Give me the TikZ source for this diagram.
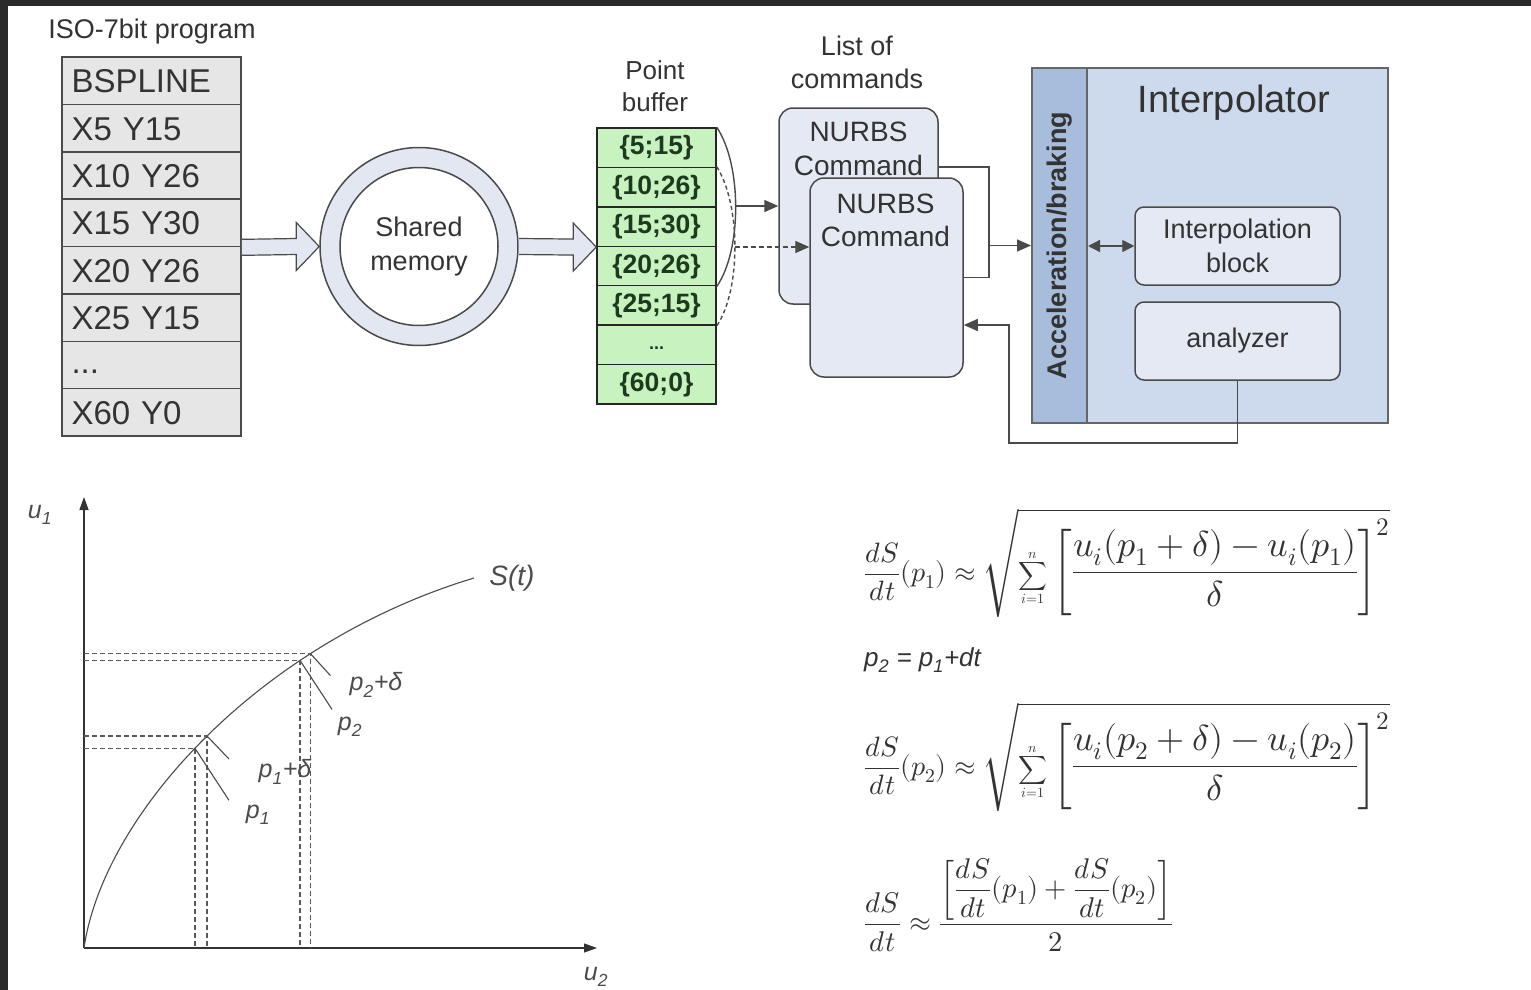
\documentclass[tikz,border=0pt]{standalone}
\usepackage{amsmath}
\usepackage{fontspec}
\usepackage{unicode-math}
\setmainfont{Liberation Sans}
\setmathfont{Latin Modern Math}
\usetikzlibrary{arrows.meta,calc}
\definecolor{txt}{HTML}{333333}
\definecolor{gridfill}{HTML}{E6E6E6}
\definecolor{ringfill}{HTML}{E2E7F2}
\definecolor{buffill}{HTML}{C8F2C0}
\definecolor{buftext}{HTML}{1E3A1E}
\definecolor{cmdfill}{HTML}{E4E9F4}
\definecolor{ipfill}{HTML}{CDD9EC}
\definecolor{accfill}{HTML}{A8BCDB}
\definecolor{framecol}{HTML}{2A2A2A}
\definecolor{edge}{HTML}{4A4A4A}
\begin{document}
\begin{tikzpicture}[x=1pt,y=-1pt,
  progrow/.style={draw=edge, fill=gridfill, line width=1.5pt, minimum width=179pt, minimum height=47.4pt,
    text width=160pt, align=left, inner xsep=9.5pt, inner ysep=0pt, text height=24pt, text depth=0pt,
    font=\fontsize{33}{36}\selectfont, text=txt},
  bufrow/.style={draw=black!85, fill=buffill, line width=1.5pt, minimum width=119pt, minimum height=39.4pt,
    inner sep=0pt, font=\bfseries\fontsize{26.5}{28}\selectfont, text=buftext, text height=19pt, text depth=5pt},
  cmdbox/.style={draw=edge, fill=cmdfill, rounded corners=14pt, line width=1.5pt, inner sep=0pt},
  smallbox/.style={draw=edge, fill=cmdfill, rounded corners=9pt, line width=1.5pt, inner sep=0pt,
    minimum width=205pt, minimum height=78pt, align=center, text=txt, font=\fontsize{27}{34}\selectfont},
  lbl/.style={text=txt, align=center, inner sep=0pt},
  line/.style={draw=edge, line width=1.4pt},
  arr/.style={line, -{Triangle[length=14pt,width=12pt]}},
  darr/.style={line, {Triangle[length=12pt,width=12pt]}-{Triangle[length=12pt,width=12pt]}},
  fat/.style={draw=edge, fill=ringfill, line width=1.2pt, line join=miter},
  axis/.style={draw=black!80, line width=1.3pt, -{Triangle[length=13pt,width=9pt]}},
  dsh/.style={draw=black!65, line width=1.3pt, dash pattern=on 5pt off 3pt},
  thin/.style={draw=black!70, line width=1.1pt},
  glbl/.style={text=black!70, inner sep=0pt, font=\itshape\fontsize{25}{28}\selectfont},
  formula/.style={inner sep=0pt, text=txt}
]
\useasboundingbox (0,0) rectangle (1531,990);
\fill[white] (0,0) rectangle (1531,990);
\fill[framecol] (0,0) rectangle (1531,6);
\fill[framecol] (0,0) rectangle (8,990);

% ---------- ISO program ----------
\node[lbl, font=\fontsize{27}{32}\selectfont] (isolbl) at (152,32) {ISO-7bit program};
\node[progrow] (p1) at (151.5,80.7)  {BSPLINE};
\node[progrow] (p2) at (151.5,128.1) {X5 Y15};
\node[progrow] (p3) at (151.5,175.5) {X10 Y26};
\node[progrow] (p4) at (151.5,222.9) {X15 Y30};
\node[progrow] (p5) at (151.5,270.3) {X20 Y26};
\node[progrow] (p6) at (151.5,317.6) {X25 Y15};
\node[progrow, text height=17pt] (p7) at (151.5,365.0) {...};
\node[progrow] (p8) at (151.5,412.4) {X60 Y0};

% ---------- shared memory ----------
\node[circle, draw=edge, fill=ringfill, line width=1.5pt, minimum size=198pt, inner sep=0pt] (mem) at (419,246.5) {};
\node[circle, draw=edge, fill=white, line width=1.5pt, minimum size=158pt, inner sep=0pt,
      align=center, text=txt, font=\fontsize{27}{34}\selectfont] (memin) at (419,246.5) {Shared\\memory};

% ---------- point buffer ----------
\node[lbl, font=\fontsize{26}{32}\selectfont] (buflbl) at (655,86) {Point\\buffer};
\node[bufrow] (b1) at (656.5,147.7) {\{5;15\}};
\node[bufrow] (b2) at (656.5,187.1) {\{10;26\}};
\node[bufrow] (b3) at (656.5,226.6) {\{15;30\}};
\node[bufrow] (b4) at (656.5,266.0) {\{20;26\}};
\node[bufrow] (b5) at (656.5,305.4) {\{25;15\}};
\node[bufrow, text height=10pt, text depth=0pt, font=\bfseries\fontsize{18}{20}\selectfont] (b6) at (656.5,344.9) {...};
\node[bufrow] (b7) at (656.5,384.3) {\{60;0\}};

% fat arrows
\filldraw[fat] ($(p4.south east)+(0,-8)$) -- ($(mem.west)+(-23,-8)$) -- ($(mem.west)+(-23,-24)$) -- (mem.west)
   -- ($(mem.west)+(-23,24)$) -- ($(mem.west)+(-23,8)$) -- ($(p4.south east)+(0,8)$);
\filldraw[fat] ($(mem.east)+(0,-8)$) -- ($(b3.south west)+(-23,-8)$) -- ($(b3.south west)+(-23,-24)$) -- (b3.south west)
   -- ($(b3.south west)+(-23,24)$) -- ($(b3.south west)+(-23,8)$) -- ($(mem.east)+(0,8)$);

% ---------- list of commands ----------
\node[lbl, font=\fontsize{27}{33}\selectfont] (cmdlbl) at (857,62) {List of\\commands};
\node[cmdbox, minimum width=159pt, minimum height=196pt] (nb) at (858.5,206) {};
\node[lbl, font=\fontsize{28}{34}\selectfont] (nbt) at ($(nb.north)+(0,42)$) {NURBS\\Command};
\node[cmdbox, minimum width=153pt, minimum height=199pt] (nf) at (886.5,277.5) {};
\node[lbl, font=\fontsize{28}{33}\selectfont] (nft) at ($(nf.north)+(-1,43)$) {NURBS\\Command};

% braces from buffer
\draw[line] (b1.north east) .. controls (742,165) and (742,250) .. (b4.south east);
\draw[line, dash pattern=on 4pt off 3pt] (b2.north east) .. controls (741,205) and (741,290) .. (b5.south east);
\coordinate (sb) at (735,206);
\coordinate (db) at (735,247);
\draw[arr] (sb) -- (nb.west);
\draw[arr, dash pattern=on 5pt off 3pt] (db) -- (db -| nf.west);

% ---------- interpolator ----------
\node[draw=black!60, fill=ipfill, line width=2pt, minimum width=356pt, minimum height=355pt, inner sep=0pt] (ip) at (1210,245.5) {};
\node[draw=black!60, fill=accfill, line width=2pt, minimum width=55pt, minimum height=355pt, inner sep=0pt] (acc) at (1059.5,245.5) {};
\node[rotate=90, text=txt, inner sep=0pt, font=\bfseries\fontsize{27}{30}\selectfont] (acct) at (1059.5,245.5) {Acceleration/braking};
\node[lbl, font=\fontsize{38}{44}\selectfont] (iptitle) at (1234,103) {Interpolator};
\node[smallbox] (ib) at (1237.5,246) {Interpolation\\block};
\node[smallbox] (an) at (1237.5,341) {analyzer};

% connectors
\coordinate (j1) at (989,167);
\coordinate (j2) at (989,245.5);
\draw[line] (nb.east |- j1) -- (j1) -- (j1 |- nf.east) -- (nf.east);
\draw[arr] (j2) -- (acc.west);
\draw[darr] (acc.east |- ib.west) -- (ib.west);
\coordinate (fb) at (1009,443);
\coordinate (fbt) at ($(nf.east)+(0,47.5)$);
\draw[arr] (an.south) |- (fb) |- (fbt);

% ---------- graph ----------
\coordinate (O) at (84,948);
\draw[axis] (O) -- (84,497);
\draw[axis] (O) -- (597,948);
\node[glbl] (u1) at (40,515) {u\textsubscript{1}};
\node[glbl] (u2) at (596,977) {u\textsubscript{2}};
\draw[thin] (O) .. controls (104,812) and (262,642) .. (474,578)
  coordinate[pos=0.47] (q1) coordinate[pos=0.5] (q1d) coordinate[pos=0.7] (q2) coordinate[pos=0.72] (q2d);
\foreach \q in {q1,q1d,q2,q2d} {
  \draw[dsh] (\q -| O) -- (\q) -- (\q |- O);
}
\draw[thin] (q1) -- ++(34,52);
\draw[thin] (q1d) -- ++(22,23);
\draw[thin] (q2) -- ++(32,49);
\draw[thin] (q2d) -- ++(20,22);
\node[glbl, font=\itshape\fontsize{28}{30}\selectfont] (st) at (512,578) {S(t)};
\node[glbl] (l2d) at (376,685) {p\textsubscript{2}+δ};
\node[glbl] (l2) at (350,727) {p\textsubscript{2}};
\node[glbl] (l1d) at (285,772) {p\textsubscript{1}+δ};
\node[glbl] (l1) at (258,815) {p\textsubscript{1}};

% ---------- formulas ----------
\node[formula, anchor=west, font=\fontsize{36}{40}\selectfont] (f1) at (864,563)
 {$\displaystyle\mbox{\fontsize{28}{30}\selectfont$\displaystyle\frac{dS}{dt}(p_1)\approx$}\,\sqrt{\mbox{\fontsize{20}{22}\selectfont$\displaystyle\sum_{i=1}^{n}$}\left[\frac{u_i(p_1+\delta)-u_i(p_1)}{\delta}\right]^2}$};
\node[formula, anchor=west, font=\itshape\fontsize{26}{30}\selectfont] (f2) at (864,660) {p\textsubscript{2} = p\textsubscript{1}+dt};
\node[formula, anchor=west, font=\fontsize{36}{40}\selectfont] (f3) at (864,757)
 {$\displaystyle\mbox{\fontsize{28}{30}\selectfont$\displaystyle\frac{dS}{dt}(p_2)\approx$}\,\sqrt{\mbox{\fontsize{20}{22}\selectfont$\displaystyle\sum_{i=1}^{n}$}\left[\frac{u_i(p_2+\delta)-u_i(p_2)}{\delta}\right]^2}$};
\node[formula, anchor=west, font=\fontsize{28.5}{34}\selectfont] (f4) at (864,905)
 {$\displaystyle\frac{dS}{dt}\approx\frac{\left[{\displaystyle\frac{dS}{dt}}(p_1)+{\displaystyle\frac{dS}{dt}}(p_2)\right]}{2}$};
\end{tikzpicture}
\end{document}
